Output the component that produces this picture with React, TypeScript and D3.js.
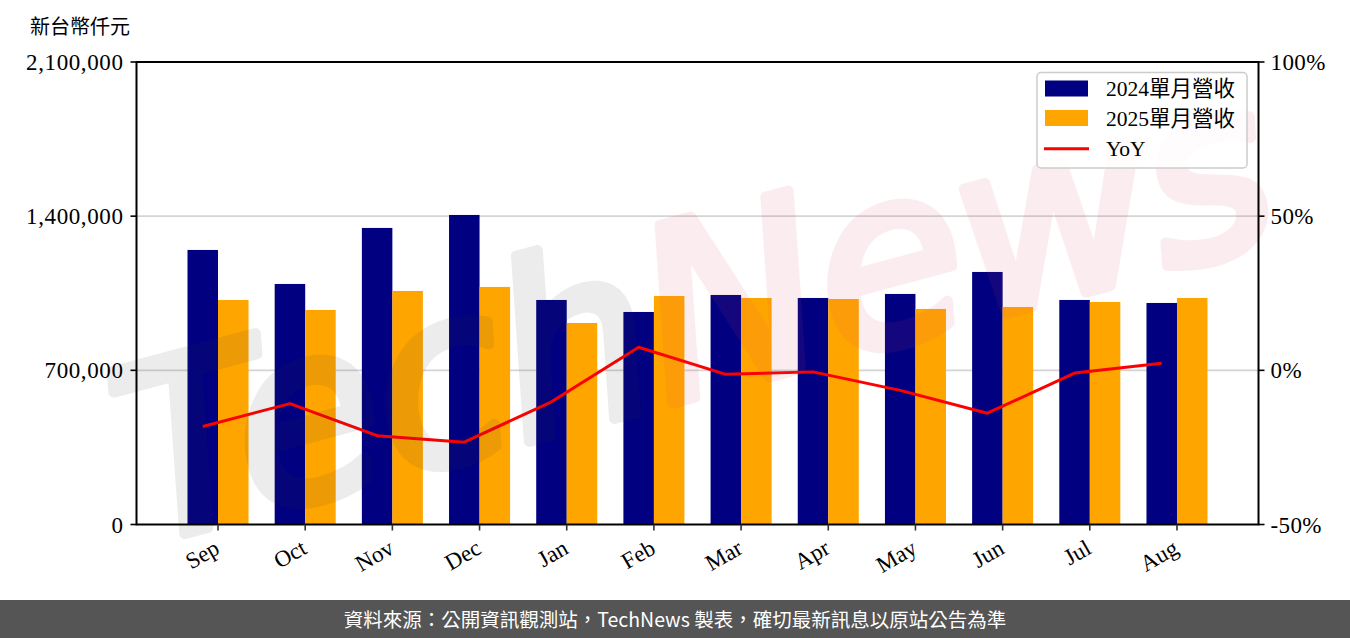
import React from "react";
import * as d3 from "d3";

const months = ["Sep", "Oct", "Nov", "Dec", "Jan", "Feb", "Mar", "Apr", "May", "Jun", "Jul", "Aug"];
const rev2024 = [1246600, 1092200, 1346500, 1405500, 1019500, 965000, 1042200, 1028600, 1046800, 1146700, 1019500, 1005900];
const rev2025 = [1019500, 974100, 1060400, 1078600, 915000, 1037700, 1028600, 1024000, 978700, 987700, 1010400, 1028600];
const yoy = [-18.2, -10.8, -21.2, -23.3, -10.2, 7.5, -1.3, -0.5, -6.5, -13.9, -0.9, 2.3];
const leftTicks = [0, 700000, 1400000, 2100000];
const rightTicks = [-50, 0, 50, 100];
const legendLabels = ["2024單月營收", "2025單月營收", "YoY"];

const W = 1350;
const H = 638;
const L = 136.5, R = 1258.5, T = 62, B = 524.5;
const serif = "'Liberation Serif', 'Noto Sans CJK TC', serif";

export default function App() {
  const bw = 0.35;
  const x = d3.scaleLinear().domain([-0.935, months.length - 1 + 0.935]).range([L, R]);
  const y = d3.scaleLinear().domain([0, 2100000]).range([B, T]);
  const yr = d3.scaleLinear().domain([-50, 100]).range([B, T]);
  const line = d3.line<number>().x((_, i) => x(i - bw / 2)).y((d) => yr(d));
  const fmt = d3.format(",");

  return (
    <svg width={W} height={H} style={{ position: "absolute", left: 0, top: 0, background: "#fff" }} xmlns="http://www.w3.org/2000/svg">
      <rect x={0} y={0} width={W} height={H} fill="#fff" />
      {/* gridlines */}
      {leftTicks.slice(1, -1).map((t) => (
        <line key={t} x1={L} x2={R} y1={y(t)} y2={y(t)} stroke="#d4d4d4" strokeWidth={1.6} />
      ))}
      {/* bars */}
      {rev2024.map((v, i) => (
        <rect key={"a" + i} x={x(i - bw)} y={y(v)} width={x(i) - x(i - bw)} height={B - y(v)} fill="#000080" />
      ))}
      {rev2025.map((v, i) => (
        <rect key={"b" + i} x={x(i)} y={y(v)} width={x(i + bw) - x(i)} height={B - y(v)} fill="#FFA500" />
      ))}
      {/* YoY line */}
      <path d={line(yoy) || ""} fill="none" stroke="#ff0000" strokeWidth={3} strokeLinejoin="round" />
      {/* watermark */}
      <g transform="rotate(-15 690 300)" opacity={0.09}>
        <text x={690} y={395} textAnchor="middle" fontFamily="'DejaVu Sans', sans-serif" fontStyle="italic" fontSize={240} letterSpacing={-2} strokeWidth={11} strokeLinejoin="round">
          <tspan fill="#3a3a3a" stroke="#3a3a3a">Tech</tspan>
          <tspan fill="#d8485c" stroke="#d8485c">News</tspan>
        </text>
      </g>
      {/* spines */}
      <rect x={L} y={T} width={R - L} height={B - T} fill="none" stroke="#000" strokeWidth={2} />
      {/* left axis */}
      {leftTicks.map((t) => (
        <g key={t}>
          <line x1={L - 6} x2={L} y1={y(t)} y2={y(t)} stroke="#000" strokeWidth={1.6} />
          <text x={L - 13} y={y(t)} dy="0.35em" textAnchor="end" fontFamily={serif} fontSize={23} letterSpacing={0.6} fill="#000">
            {fmt(t)}
          </text>
        </g>
      ))}
      {/* right axis */}
      {rightTicks.map((t) => (
        <g key={t}>
          <line x1={R} x2={R + 6} y1={yr(t)} y2={yr(t)} stroke="#000" strokeWidth={1.6} />
          <text x={R + 12} y={yr(t)} dy="0.35em" textAnchor="start" fontFamily={serif} fontSize={23} letterSpacing={0.4} fill="#000">
            {t + "%"}
          </text>
        </g>
      ))}
      {/* x axis */}
      {months.map((m, i) => (
        <g key={m}>
          <line x1={x(i)} x2={x(i)} y1={B} y2={B + 6} stroke="#333" strokeWidth={1.6} />
          <text
            transform={`translate(${x(i) - 5},${B + 14}) rotate(-30)`}
            textAnchor="end"
            dy="0.7em"
            fontFamily={serif}
            fontSize={23}
            fill="#000"
          >
            {m}
          </text>
        </g>
      ))}
      {/* unit label */}
      <text x={30} y={34} fontFamily={serif} fontSize={20} fill="#000">新台幣仟元</text>
      {/* legend */}
      <g>
        <rect x={1037} y={72.5} width={210} height={95.5} rx={4} fill="rgba(255,255,255,0.8)" stroke="#cccccc" strokeWidth={1.5} />
        <rect x={1045} y={80.5} width={43} height={16} fill="#000080" />
        <rect x={1045} y={110} width={43} height={16} fill="#FFA500" />
        <line x1={1044} x2={1089} y1={148.7} y2={148.7} stroke="#ff0000" strokeWidth={3} />
        {legendLabels.map((l, i) => (
          <text key={l} x={1106} y={[88.5, 118, 148.7][i]} dy="0.36em" fontFamily={serif} fontSize={21.5} fill="#000">
            {l}
          </text>
        ))}
      </g>
      {/* footer */}
      <rect x={0} y={600} width={W} height={38} fill="#555555" />
      <text x={675} y={620} dy="0.35em" textAnchor="middle" fontFamily="'Noto Sans CJK TC', 'Noto Sans', sans-serif" fontSize={19.5} fill="#fff">
        資料來源：公開資訊觀測站，TechNews 製表，確切最新訊息以原站公告為準
      </text>
    </svg>
  );
}
